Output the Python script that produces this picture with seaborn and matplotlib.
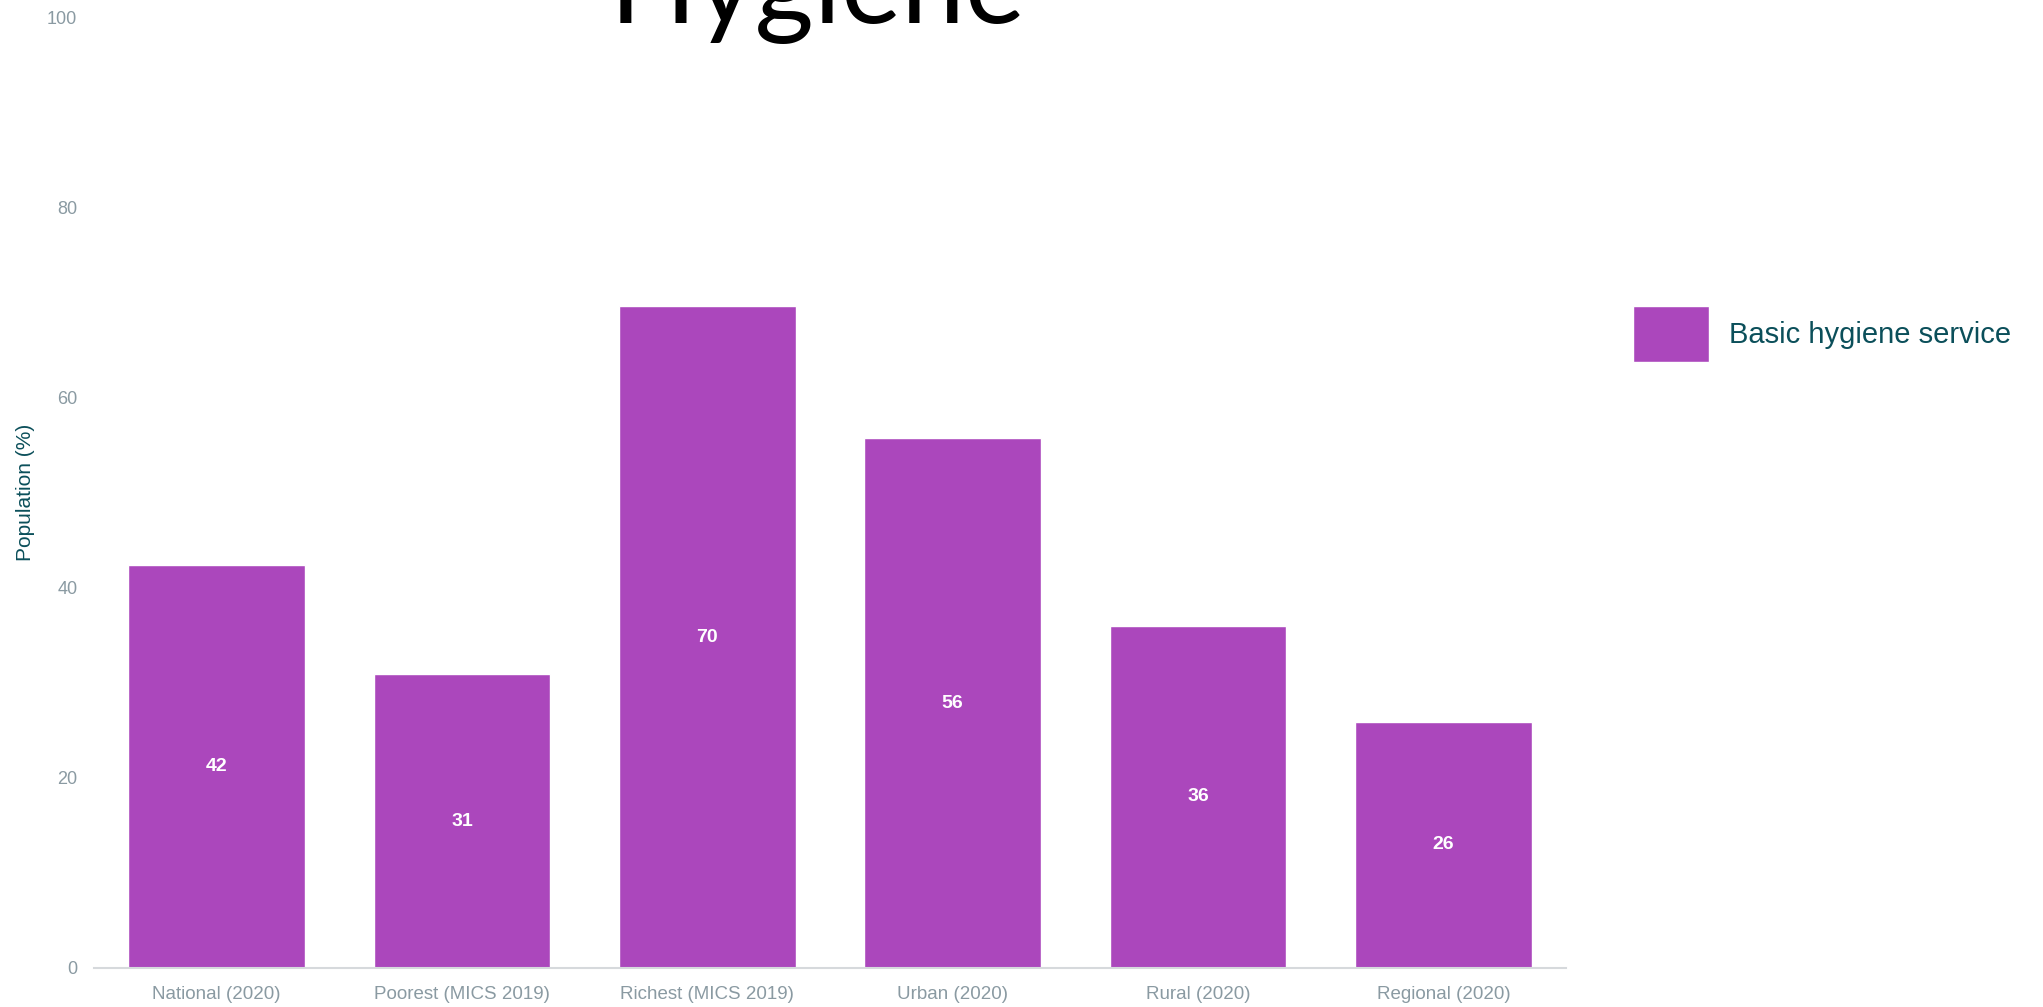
import matplotlib
matplotlib.use("Agg")
import matplotlib.pyplot as plt
import seaborn as sns
import pandas as pd

categories = ["National (2020)", "Poorest (MICS 2019)", "Richest (MICS 2019)",
              "Urban (2020)", "Rural (2020)", "Regional (2020)"]
basic_hygiene = [42.4, 30.9, 69.6, 55.7, 36.0, 25.9]
series_name = "Basic hygiene service"
y_ticks = [0, 20, 40, 60, 80, 100]

BAR = "#ab47bc"
TEAL = "#0b4f5a"
GREY = "#8a9aa2"

sns.set_theme(style="white")
plt.rcParams["font.family"] = ["Liberation Sans", "DejaVu Sans"]

df = pd.DataFrame({"category": categories, "value": basic_hygiene})

fig = plt.figure(figsize=(20.43, 10.07), dpi=100)
ax = fig.add_axes([94 / 2043, 1 - 968 / 1007, (1566 - 94) / 2043, (968 - 17) / 1007])

sns.barplot(data=df, x="category", y="value", color=BAR, saturation=1,
            width=0.72, ax=ax, label=series_name)
handles, labels = ax.get_legend_handles_labels()
if ax.get_legend() is not None:
    ax.get_legend().remove()

ax.set_ylim(0, 100)
ax.set_xlim(-0.5, len(categories) - 0.5)
ax.set_yticks(y_ticks)
ax.tick_params(axis="both", colors=GREY, length=0)
ax.tick_params(axis="x", pad=13, labelsize=13.5)
ax.tick_params(axis="y", pad=12, labelsize=13)
for lbl in ax.get_xticklabels() + ax.get_yticklabels():
    lbl.set_color(GREY)

ax.set_xlabel("")
ax.set_ylabel("Population (%)", color=TEAL, fontsize=15)
ax.yaxis.set_label_coords(-0.040, 0.5)

for side in ["top", "right", "left"]:
    ax.spines[side].set_visible(False)
ax.spines["bottom"].set_color("#d6d9dc")
ax.spines["bottom"].set_linewidth(1.5)

# value labels in the middle of each bar
for i, v in enumerate(basic_hygiene):
    ax.text(i, v / 2, f"{v:.0f}", ha="center", va="center",
            color="white", fontsize=14, fontweight="bold")

# legend to the right of the plot
leg = fig.legend(handles[:1], labels[:1], loc="upper left",
                 bbox_to_anchor=(1633 / 2043, 1 - 306 / 1007),
                 frameon=False, fontsize=21, handlelength=2.6, handleheight=2.6,
                 handletextpad=0.7, borderpad=0, borderaxespad=0)
for t in leg.get_texts():
    t.set_color(TEAL)

# large heading, partially above the canvas
fig.text(818 / 2043, 1 - 23 / 1007, "Hygiene", ha="center", va="baseline",
         fontsize=82, color="black", family=["Lato", "DejaVu Sans"])

fig.savefig("out.png", dpi=100)
